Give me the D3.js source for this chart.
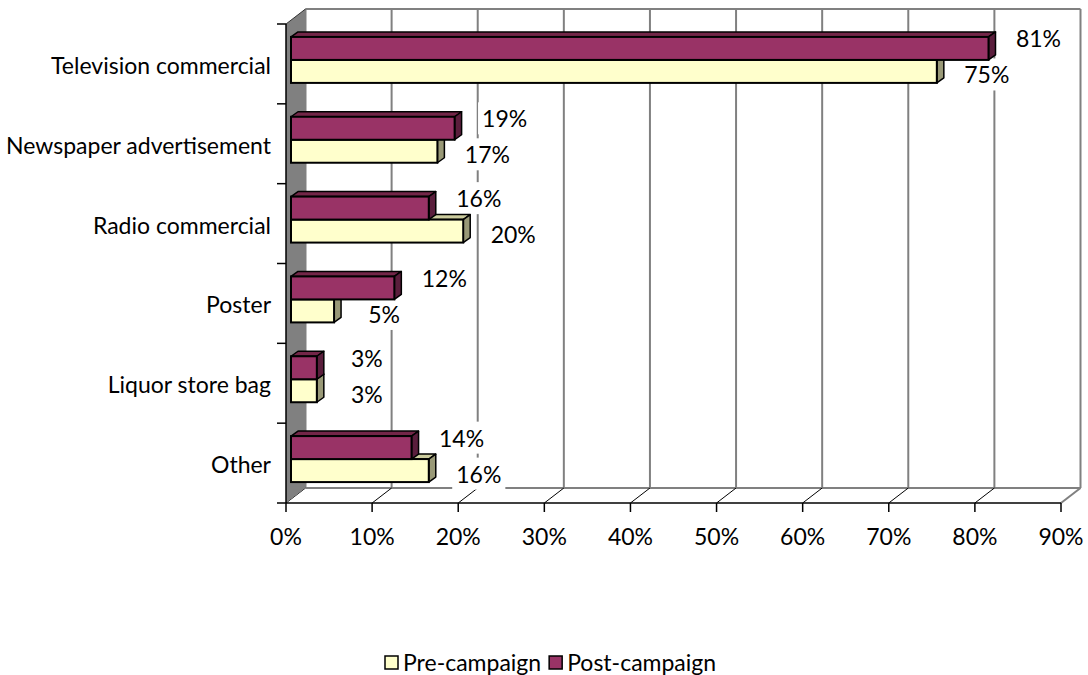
<!DOCTYPE html>
<html>
<head>
<meta charset="utf-8">
<script src="https://cdn.jsdelivr.net/npm/d3@7"></script>
<style>
  html, body { margin: 0; padding: 0; background: #fff; }
  svg { display: block; }
  text { font-family: Lato, "Open Sans", sans-serif; fill: #000; }
</style>
</head>
<body>
<svg id="chart" width="1088" height="675"></svg>
<script>
// ---- data ----
const categories = ["Television commercial", "Newspaper advertisement", "Radio commercial", "Poster", "Liquor store bag", "Other"];
const preCampaign = [75, 17, 20, 5, 3, 16];
const postCampaign = [81, 19, 16, 12, 3, 14];
const seriesNames = ["Pre-campaign", "Post-campaign"];
const tickValues = [0, 10, 20, 30, 40, 50, 60, 70, 80, 90];

// ---- layout ----
const svg = d3.select("#chart");
const FS = 23;
const depth = { dx: 19.5, dy: -15 };       // wall depth
const barOff = { dx: 5, dy: -4 };          // bar front face offset from front plane
const barDepth = { dx: 7, dy: -5 };        // bar thickness in depth

const x = d3.scaleLinear().domain([0, 90]).range([286, 1061]);
const y = d3.scaleBand().domain(categories).range([24, 503]);
const x0 = x(0), x1 = x(90), yT = 24, yB = 503;

const colors = {
  pre:  { front: "#FFFFCC", top: "#CCCC9E", side: "#999977" },
  post: { front: "#993366", top: "#732648", side: "#5A1E3C" }
};

const g = svg.append("g");
g.append("rect")
  .attr("x", x0 + depth.dx).attr("y", yT + depth.dy)
  .attr("width", x1 - x0).attr("height", yB - yT)
  .attr("fill", "#fff");

g.selectAll("line.grid").data(tickValues).join("line")
  .attr("class", "grid")
  .attr("x1", d => x(d) + depth.dx).attr("x2", d => x(d) + depth.dx)
  .attr("y1", yT + depth.dy).attr("y2", yB + depth.dy)
  .attr("stroke", "#808080").attr("stroke-width", 2);

g.append("line")
  .attr("x1", x0 + depth.dx).attr("x2", x1 + depth.dx)
  .attr("y1", yT + depth.dy).attr("y2", yT + depth.dy)
  .attr("stroke", "#808080").attr("stroke-width", 2);
g.append("line")
  .attr("x1", x0 + depth.dx).attr("x2", x1 + depth.dx)
  .attr("y1", yB + depth.dy).attr("y2", yB + depth.dy)
  .attr("stroke", "#808080").attr("stroke-width", 2);

g.selectAll("line.floor").data(tickValues).join("line")
  .attr("class", "floor")
  .attr("x1", d => x(d)).attr("y1", yB)
  .attr("x2", d => x(d) + depth.dx).attr("y2", yB + depth.dy)
  .attr("stroke", d => d === 90 ? "#808080" : "#000")
  .attr("stroke-width", d => d === 90 ? 2 : 1);

g.append("polygon")
  .attr("points", [[x0, yT], [x0 + depth.dx, yT + depth.dy], [x0 + depth.dx, yB + depth.dy], [x0, yB]].map(p => p.join(",")).join(" "))
  .attr("fill", "#808080");
g.append("line")
  .attr("x1", x0).attr("y1", yT).attr("x2", x0 + depth.dx).attr("y2", yT + depth.dy)
  .attr("stroke", "#333").attr("stroke-width", 1);

g.append("line").attr("x1", x0).attr("x2", x0).attr("y1", yT).attr("y2", yB)
  .attr("stroke", "#000").attr("stroke-width", 1.5);
g.append("line").attr("x1", x0).attr("x2", x1).attr("y1", yB).attr("y2", yB)
  .attr("stroke", "#000").attr("stroke-width", 1.5);

const yBounds = categories.map(c => y(c)).concat([yB]);
g.selectAll("line.ytick").data(yBounds).join("line")
  .attr("x1", x0 - 9).attr("x2", x0).attr("y1", d => d).attr("y2", d => d)
  .attr("stroke", "#000").attr("stroke-width", 1.5);

g.selectAll("line.xtick").data(tickValues).join("line")
  .attr("x1", d => x(d)).attr("x2", d => x(d)).attr("y1", yB).attr("y2", yB + 9)
  .attr("stroke", "#000").attr("stroke-width", 1.5);

g.selectAll("text.xlab").data(tickValues).join("text")
  .attr("class", "xlab")
  .attr("x", d => x(d)).attr("y", 537).attr("dy", "0.35em")
  .attr("text-anchor", "middle").attr("font-size", FS)
  .text(d => d + "%");

g.selectAll("text.ylab").data(categories).join("text")
  .attr("class", "ylab")
  .attr("x", 271).attr("y", d => y(d) + y.bandwidth() / 2 + 2)
  .attr("dy", "0.35em")
  .attr("text-anchor", "end").attr("font-size", FS)
  .text(d => d);

// data labels (with white background), drawn under the bars
const labels = svg.append("g");
function addLabel(val, lx, ly) {
  const t = labels.append("text")
    .attr("x", lx).attr("y", ly).attr("dy", "0.35em")
    .attr("text-anchor", "middle").attr("font-size", FS)
    .text(val + "%");
  const bb = t.node().getBBox();
  labels.insert("rect", "text")
    .attr("x", bb.x - 4).attr("y", bb.y - 2).attr("width", bb.width + 8).attr("height", bb.height + 4)
    .attr("fill", "#fff");
}

// bars
const barH = y.bandwidth() * 0.288;
function drawBar(sel, val, top, col) {
  const xl = x(0) + barOff.dx, xr = x(val) + barOff.dx;
  const yt = top, yb = top + barH;
  const ddx = barDepth.dx, ddy = barDepth.dy;
  const pts = a => a.map(p => p.join(",")).join(" ");
  sel.append("polygon").attr("points", pts([[xl, yt], [xr, yt], [xr + ddx, yt + ddy], [xl + ddx, yt + ddy]]))
    .attr("fill", col.top).attr("stroke", "#000").attr("stroke-width", 1.5).attr("stroke-linejoin", "round");
  sel.append("polygon").attr("points", pts([[xr, yt], [xr + ddx, yt + ddy], [xr + ddx, yb + ddy], [xr, yb]]))
    .attr("fill", col.side).attr("stroke", "#000").attr("stroke-width", 1.5).attr("stroke-linejoin", "round");
  sel.append("rect").attr("x", xl).attr("y", yt).attr("width", xr - xl).attr("height", barH)
    .attr("fill", col.front).attr("stroke", "#000").attr("stroke-width", 2);
}

const bars = svg.append("g");
categories.forEach((c, i) => {
  const cy = y(c) + y.bandwidth() / 2 + barOff.dy;
  addLabel(postCampaign[i], x(postCampaign[i]) + barOff.dx + 50, cy - barH / 2 - 9);
  addLabel(preCampaign[i], x(preCampaign[i]) + barOff.dx + 50, cy + barH / 2 + 4);
  const grp = bars.append("g");
  drawBar(grp, preCampaign[i], cy, colors.pre);
  drawBar(grp, postCampaign[i], cy - barH, colors.post);
});

// legend
const legend = svg.append("g");
const legendItems = [
  { name: seriesNames[0], col: colors.pre.front },
  { name: seriesNames[1], col: colors.post.front }
];
let lx = 385;
legendItems.forEach(it => {
  legend.append("rect").attr("x", lx).attr("y", 656).attr("width", 13).attr("height", 13)
    .attr("fill", it.col).attr("stroke", "#000").attr("stroke-width", 1.5);
  const t = legend.append("text").attr("x", lx + 18).attr("y", 662.5).attr("dy", "0.35em")
    .attr("font-size", FS).text(it.name);
  lx += 18 + t.node().getComputedTextLength() + 8;
});
</script>
</body>
</html>
